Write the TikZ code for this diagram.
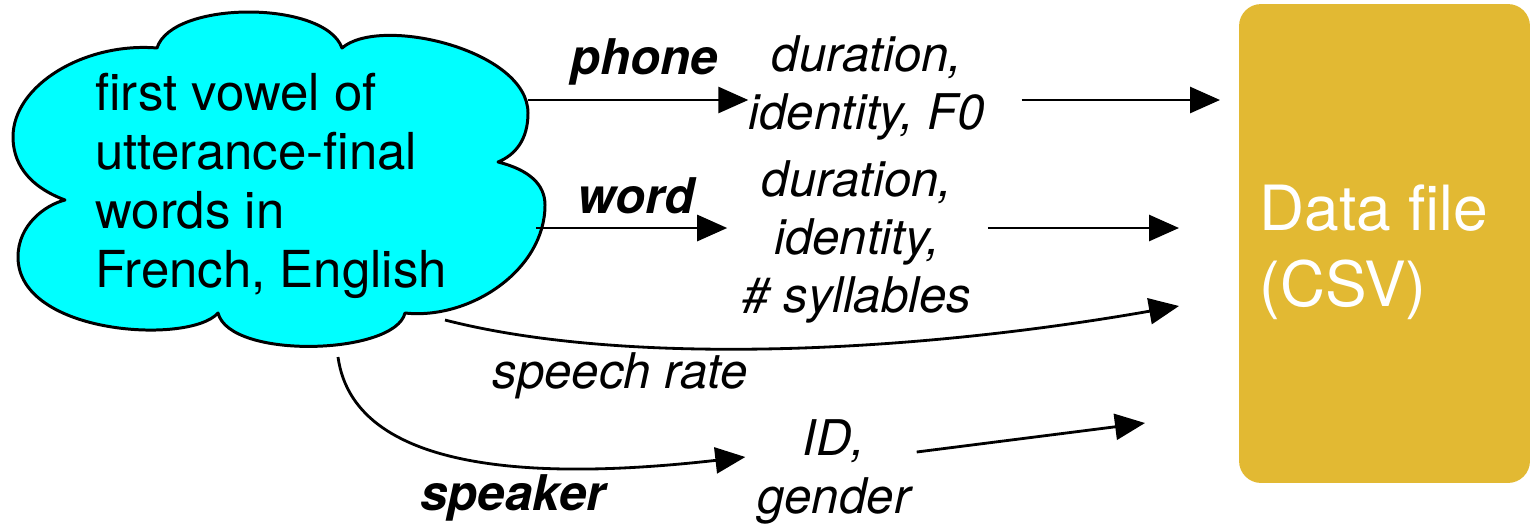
\documentclass[tikz,border=0pt]{standalone}
\usepackage{fontspec}
\setmainfont{TeX Gyre Heros}
\usetikzlibrary{arrows.meta,calc}
\definecolor{cloudcyan}{RGB}{0,255,255}
\definecolor{filegold}{RGB}{226,185,51}
\tikzset{
  flow/.style={line width=1.6pt, -{Triangle[length=0.6cm,width=0.52cm]}},
  feat/.style={font=\fontsize{28}{33}\selectfont\itshape, align=center, inner sep=0pt},
  level/.style={font=\fontsize{28}{33}\selectfont\bfseries\itshape, inner sep=0pt},
}

\begin{document}
\begin{tikzpicture}[x=0.02cm, y=-0.02cm]
    \useasboundingbox (0,0) rectangle (1530,525);

    % the cloud of vowel tokens
    \filldraw[fill=cloudcyan, line width=1.7pt, line join=round]
        (65,200) .. controls (25,185) and (13,160) .. (13,137)
        .. controls (13,85) and (85,42) .. (157,48)
        .. controls (172,0) and (325,0) .. (342,48)
        .. controls (380,15) and (528,50) .. (528,113)
        .. controls (528,140) and (515,155) .. (498,162)
        .. controls (530,170) and (545,185) .. (545,205)
        .. controls (545,270) and (470,320) .. (405,313)
        .. controls (395,355) and (230,360) .. (218,313)
        .. controls (190,345) and (18,335) .. (18,257)
        .. controls (18,225) and (45,205) .. cycle;
    \node[anchor=west, inner sep=0pt, align=left, font=\fontsize{29}{33.5}\selectfont]
        (vowel) at (95,186) {first vowel of\\utterance-final\\words in\\French, English};
    \coordinate (phone-out) at (528,100);
    \coordinate (word-out) at (536,228);
    \coordinate (rate-out) at (445,320);
    \coordinate (spk-out) at (338,357);

    % output file
    \node[fill=filegold, rounded corners=0.44cm, minimum width=5.82cm, minimum height=9.58cm,
        inner sep=0pt] (csv) at (1384.5,243.5) {};
    \node[anchor=west, inner sep=0pt, align=left, text=white,
        font=\fontsize{35.5}{43}\selectfont] (csvname) at (1259,252) {Data file\\(CSV)};
    \coordinate (phone-in) at (1220,100);
    \coordinate (word-in) at (1179,228);
    \coordinate (rate-in) at (1179,306);
    \coordinate (spk-in) at (1145,423);

    % levels and what is measured there
    \node[level, anchor=base] (phone) at (644,74) {phone};
    \node[feat] (phonefeat) at (867,88) {duration,\\identity, F0};
    \node[level, anchor=base] (word) at (636,213) {word};
    \node[feat] (wordfeat) at (857,242) {duration,\\identity,\\\# syllables};
    \node[feat, anchor=base] (rate) at (620,388) {speech rate};
    \node[level, anchor=base] (spk) at (513,510) {speaker};
    \node[feat] (spkfeat) at (834,472) {ID,\\gender};

    \draw[flow] (phone-out) -- (phone-out -| phonefeat.west);
    \draw[flow, shorten <=0.72cm] (phonefeat.east |- phone-out) -- (phone-in);
    \draw[flow, shorten >=0.3cm] (word-out) -- (word-out -| wordfeat.west);
    \draw[flow, shorten <=0.32cm] (wordfeat.east |- word-out) -- (word-in);
    \draw[flow] (rate-out) .. controls (620,365) and (900,355) .. (rate-in);
    \draw[flow] (spk-out) .. controls +(17,123) and +(-185,21) .. ($(spkfeat.west)+(-12,-15)$);
    \draw[flow] ($(spkfeat.east)+(6,-20)$) -- (spk-in);

\end{tikzpicture}
\end{document}
